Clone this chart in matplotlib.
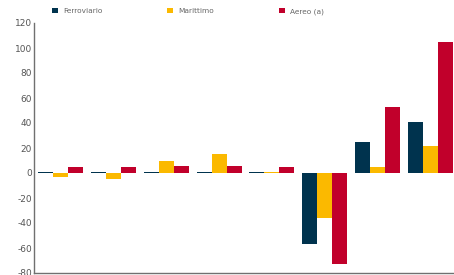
import matplotlib
matplotlib.use("Agg")
import matplotlib.pyplot as plt
import numpy as np

categories = ["1", "2", "3", "4", "5", "6", "7", "8"]
ferroviario = [1, 1, 1, 1, 1, -57, 25, 41]
marittimo = [-3, -4.5, 9.5, 15.5, 1, -36, 4.5, 22]
aereo = [4.5, 4.5, 6, 6, 4.5, -73, 52.5, 105]
series_names = ["Ferroviario", "Marittimo", "Aereo (a)"]
yticks = [-80, -60, -40, -20, 0, 20, 40, 60, 80, 100, 120]

colors = ["#00334e", "#fbb900", "#c1002b"]

W, H = 454, 275
fig = plt.figure(figsize=(W / 100, H / 100), dpi=100)
ax = fig.add_axes([34 / W, 2 / H, (457 - 34) / W, (272.5 - 22.5) / H])

x = np.arange(len(categories))
bw = 0.284
handles = []
for k, (vals, name, c) in enumerate(zip([ferroviario, marittimo, aereo], series_names, colors)):
    b = ax.bar(x + (k - 1) * bw, vals, width=bw, color=c, label=name, linewidth=0)
    handles.append(b)

ax.set_xlim(-0.5, len(categories) - 0.5)
ax.set_ylim(-80, 120)
ax.set_yticks(yticks)
ax.set_yticklabels([str(v) for v in yticks])
ax.set_xticks([])
ax.tick_params(axis="y", length=0, pad=1.5, labelsize=6.5, labelcolor="#555555")
for s in ["top", "right"]:
    ax.spines[s].set_visible(False)
for s in ["left", "bottom"]:
    ax.spines[s].set_color("#707070")
    ax.spines[s].set_linewidth(1.0)

leg = ax.legend(handles=handles, labels=series_names, ncol=3, loc="center left",
                bbox_to_anchor=(52 / W, 1 - 11.5 / H), bbox_transform=fig.transFigure,
                frameon=False, fontsize=5.3, borderpad=0, borderaxespad=0,
                handlelength=0.82, handleheight=0.68, handletextpad=0.68,
                columnspacing=8.8)
for t in leg.get_texts():
    t.set_color("#666666")

fig.savefig("out.png", dpi=100)
